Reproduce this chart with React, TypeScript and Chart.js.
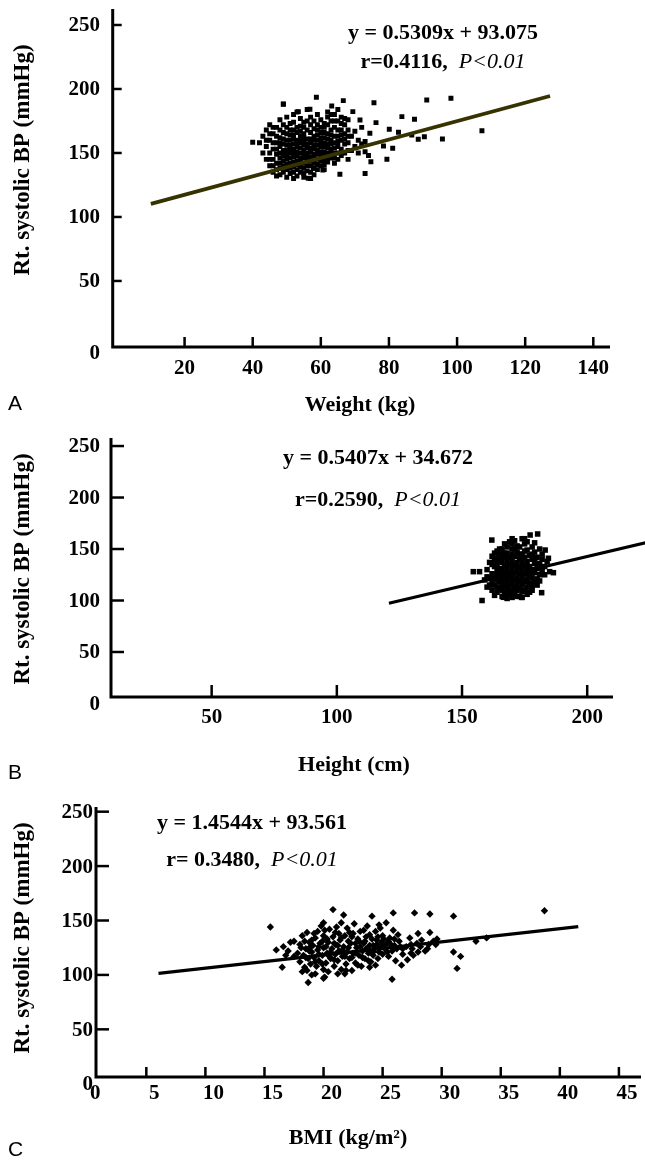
import React, { useEffect, useRef } from "react";
import { Chart, registerables } from "chart.js";

Chart.register(...registerables);

// ---------------- DATA ----------------
const bpTicks = [0, 50, 100, 150, 200, 250];

// Panel A: weight (kg) vs right systolic BP (mmHg)
const weightTicks = [20, 40, 60, 80, 100, 120, 140];
const weightPoints: [number, number][] = [
  [42, 158], [43, 150], [43, 163], [44, 145], [44, 155], [44, 168], [45, 140], [45, 150], [45, 160], [45, 172],
  [46, 135], [46, 145], [46, 153], [46, 165], [47, 132], [47, 142], [47, 149], [47, 158], [47, 170], [48, 138],
  [48, 146], [48, 155], [48, 162], [48, 176], [48, 133], [49, 140], [49, 148], [49, 157], [49, 166], [49, 188],
  [50, 131], [50, 137], [50, 145], [50, 152], [50, 160], [50, 170], [50, 178], [51, 134], [51, 142], [51, 150],
  [51, 156], [51, 164], [51, 173], [52, 130], [52, 139], [52, 147], [52, 153], [52, 161], [52, 168], [52, 180],
  [53, 132], [53, 141], [53, 148], [53, 155], [53, 160], [53, 166], [53, 182], [54, 135], [54, 143], [54, 150],
  [54, 158], [54, 163], [54, 171], [54, 177], [55, 131], [55, 138], [55, 146], [55, 152], [55, 159], [55, 165],
  [55, 174], [56, 136], [56, 144], [56, 150], [56, 157], [56, 168], [56, 184], [57, 130], [57, 140], [57, 147],
  [57, 154], [57, 161], [57, 172], [57, 178], [58, 133], [58, 142], [58, 149], [58, 156], [58, 163], [58, 175],
  [58.7, 193.5], [59, 137], [59, 145], [59, 152], [59, 160], [59, 168], [59, 180], [60, 140], [60, 148], [60, 155],
  [60, 162], [60, 170], [60, 176], [61, 137], [61, 144], [61, 151], [61, 158], [61, 166], [61, 173], [62, 143],
  [62, 150], [62, 157], [62, 165], [62, 178], [62, 182], [63, 146], [63, 153], [63, 160], [63, 168], [63, 175],
  [63.2, 186.7], [64, 142], [64, 150], [64, 158], [64, 170], [64, 180], [65, 145], [65, 155], [65, 163], [65, 175],
  [65, 184], [65.6, 133.4], [66, 148], [66, 160], [66, 168], [66, 178], [66.6, 190.9], [67, 150], [67, 157], [67, 165],
  [67, 172], [68, 145], [68, 158], [68, 168], [68, 176], [69, 152], [69, 163], [69.4, 182.3], [70, 155], [70, 167],
  [71, 150], [71, 160], [71.5, 175.8], [72, 157], [72, 170], [73, 134], [73, 151], [73, 159], [74, 148], [74.4, 165.4],
  [75.6, 189.3], [76.2, 173.7], [74.7, 143.2], [78.4, 155.5], [79.4, 145.1], [80.1, 168.5], [81.1, 153.7], [82.8, 166.2],
  [83.8, 178.4], [86.7, 164.1], [87.5, 176.3], [88.6, 160.7], [90.4, 162.7], [91.1, 191.4], [95.7, 160.9], [98.2, 192.7],
  [107.3, 167.4], [40, 158.4], [49, 188.3], [56.8, 184.1], [53.4, 182.3], [56.3, 130.2], [60.6, 136.7], [57.8, 138],
  [44, 160], [45, 145], [45, 165], [46, 140], [46, 158], [46, 170], [47, 137], [47, 153], [47, 163], [48, 142],
  [48, 150], [48, 158], [48, 168], [49, 135], [49, 144], [49, 152], [49, 161], [49, 172], [50, 141], [50, 148],
  [50, 156], [50, 165], [51, 138], [51, 146], [51, 153], [51, 160], [51, 168], [52, 135], [52, 143], [52, 150],
  [52, 157], [52, 164], [52, 174], [53, 137], [53, 144], [53, 151], [53, 158], [53, 170], [54, 139], [54, 146],
  [54, 154], [54, 160], [54, 167], [55, 134], [55, 142], [55, 149], [55, 156], [55, 162], [55, 170], [56, 140],
  [56, 147], [56, 154], [56, 161], [56, 175], [57, 135], [57, 144], [57, 151], [57, 158], [57, 166], [58, 138],
  [58, 146], [58, 153], [58, 160], [58, 169], [59, 141], [59, 149], [59, 156], [59, 164], [59, 172], [60, 144],
  [60, 151], [60, 159], [60, 166], [61, 141], [61, 148], [61, 155], [61, 162], [61, 170], [62, 146], [62, 154],
  [62, 161], [62, 172], [63, 150], [63, 157], [63, 164], [63, 180], [64, 146], [64, 154], [64, 163], [64, 175],
  [65, 150], [65, 159], [65, 168], [66, 153], [66, 164], [66, 173], [67, 161], [67, 177], [68, 152], [68, 163],
];
const weightFit: [number, number][] = [[10.1, 110.2], [127.3, 194.5]];

// Panel B: height (cm) vs right systolic BP (mmHg)
const heightTicks = [50, 100, 150, 200];
const heightPoints: [number, number][] = [
  [157, 128], [158, 100], [159, 120], [160, 113], [160, 130], [161, 122], [161, 137], [161.9, 158.7], [162, 110], [162, 118],
  [162, 126], [162, 143], [163, 105], [163, 115], [163, 124], [163, 133], [163, 140], [164, 108], [164, 120], [164, 128],
  [164, 136], [164, 148], [165, 112], [165, 118], [165, 125], [165, 131], [165, 139], [165, 145], [166, 104], [166, 110],
  [166, 116], [166, 122], [166, 130], [166, 137], [166, 150], [167, 108], [167, 114], [167, 120], [167, 127], [167, 133],
  [167, 142], [167, 155], [168, 102], [168, 112], [168, 118], [168, 124], [168, 130], [168, 138], [168, 146], [169, 106],
  [169, 115], [169, 121], [169, 128], [169, 135], [169, 142], [169, 157], [170, 103], [170, 110], [170, 117], [170, 124],
  [170, 131], [170, 138], [170, 150], [171, 107], [171, 113], [171, 120], [171, 127], [171, 134], [171, 143], [171, 158],
  [172, 110], [172, 116], [172, 122], [172, 129], [172, 137], [172, 147], [173, 104], [173, 112], [173, 119], [173, 126],
  [173, 132], [173, 140], [173, 152], [174, 103], [174, 115], [174, 122], [174, 130], [174, 137], [174, 145], [174, 160],
  [175, 110], [175, 118], [175, 126], [175, 134], [175, 142], [175, 155], [176, 113], [176, 121], [176, 129], [176, 138],
  [176, 149], [177, 108], [177, 117], [177, 125], [177, 133], [177, 144], [177.2, 163.6], [178, 114], [178, 122], [178, 130],
  [178, 140], [178, 152], [179, 118], [179, 127], [179, 136], [179, 147], [180, 121], [180, 131], [180, 142], [180.2, 164.6],
  [181, 125], [181, 135], [181, 150], [181.8, 107.6], [182, 130], [182, 140], [183, 133], [183.2, 149], [184, 138], [184.5, 141],
  [185, 128], [186.5, 127], [154.5, 128], [166.5, 103.1], [169.8, 105.3], [173.8, 103.1],
  [163, 146], [164, 113], [165, 150], [166, 126], [166, 143], [167, 146], [168, 107], [168, 152], [169, 110], [170, 145],
  [170, 155], [171, 150], [172, 104], [172, 153], [173, 145], [174, 109], [175, 148], [176, 106], [176, 157], [178, 110],
  [178, 145], [179, 141], [180, 115], [180, 136], [181, 119], [182, 145], [183, 125], [179, 156], [175, 160], [170, 160],
  [164, 141], [162, 135], [161, 115], [160, 123],
];
const heightFit: [number, number][] = [[120.8, 97.3], [223.3, 156.1]];

// Panel C: BMI (kg/m²) vs right systolic BP (mmHg)
const bmiTicks = [0, 5, 10, 15, 20, 25, 30, 35, 40, 45];
const bmiPoints: [number, number][] = [
  [15.5, 144], [16.0, 123], [16.5, 107], [16.6, 126], [17.2, 130], [17.5, 131], [18.7, 93], [20.0, 97], [20.8, 160], [21.7, 155],
  [21.5, 148], [24.1, 154], [25.9, 157], [27.7, 157], [29.0, 156], [31.0, 154], [38.7, 159], [25.8, 96], [31.0, 121], [31.6, 117],
  [31.3, 106], [32.9, 131], [33.8, 134], [26.6, 109], [27.1, 114], [27.4, 120], [26.7, 124], [28.0, 138], [29.0, 139], [29.6, 133],
  [29.5, 128], [28.8, 124], [28.2, 126], [27.4, 128], [26.3, 137], [23.9, 107], [21.2, 101], [21.8, 101], [19.3, 101], [18.2, 103],
  [20.1, 98], [17.8, 120], [18.0, 112], [18.0, 128], [18.2, 136], [18.3, 118], [18.4, 107], [18.5, 124], [18.6, 139], [18.7, 115],
  [18.8, 130], [18.9, 110], [19.0, 121], [19.1, 127], [19.2, 116], [19.3, 134], [19.4, 108], [19.5, 123], [19.5, 140], [19.6, 113],
  [19.7, 129], [19.8, 145], [19.9, 118], [20.0, 105], [20.0, 125], [20.0, 136], [20.0, 148], [20.2, 111], [20.3, 120], [20.4, 130],
  [20.5, 142], [20.6, 115], [20.7, 124], [20.8, 135], [20.9, 108], [21.0, 119], [21.0, 128], [21.0, 139], [21.2, 113], [21.3, 122],
  [21.4, 132], [21.5, 105], [21.6, 117], [21.7, 126], [21.8, 136], [21.9, 110], [22.0, 121], [22.0, 143], [22.2, 115], [22.3, 129],
  [22.4, 104], [22.5, 120], [22.5, 138], [22.6, 147], [22.7, 111], [22.8, 125], [22.9, 133], [23.0, 118], [23.1, 140], [23.2, 108],
  [23.3, 122], [23.4, 129], [23.5, 115], [23.6, 135], [23.7, 145], [23.8, 120], [23.9, 127], [24.0, 112], [24.1, 133], [24.2, 118],
  [24.3, 124], [24.4, 140], [24.5, 128], [24.6, 115], [24.7, 121], [24.8, 143], [24.9, 130], [25.0, 119], [25.0, 136], [25.2, 124],
  [25.3, 148], [25.4, 129], [25.5, 117], [25.6, 134], [25.8, 122], [25.9, 141], [26.0, 127], [26.1, 113], [26.4, 131], [26.7, 119],
  [27.0, 126], [27.3, 134], [27.6, 118], [27.9, 129], [28.3, 132], [28.6, 122], [28.9, 128], [29.3, 131], [18.1, 125], [18.4, 131],
  [18.9, 126], [19.2, 138], [19.6, 119], [19.9, 131], [20.2, 126], [20.5, 117], [20.9, 129], [21.3, 138], [21.6, 123], [22.1, 131],
  [22.4, 116], [22.7, 129], [23.1, 126], [23.5, 131], [23.8, 113], [24.2, 127], [24.6, 135], [25.1, 127], [25.5, 131], [26.2, 124],
  [27.5, 124], [28.0, 121], [17.0, 122], [17.5, 117], [16.8, 118], [18.6, 104], [19.0, 100], [20.4, 103], [21.9, 104], [22.9, 109],
  [24.4, 109], [18.5, 116], [18.8, 122], [19.3, 112], [19.6, 126], [19.9, 110], [20.3, 133], [20.6, 121], [20.9, 114], [21.2, 127],
  [21.5, 134], [21.8, 117], [22.1, 125], [22.4, 135], [22.7, 120], [23.0, 131], [23.3, 116], [23.6, 124], [23.9, 137], [24.2, 121],
  [24.5, 132], [24.8, 125], [25.1, 133], [25.4, 121], [25.7, 128], [26.0, 133], [26.5, 126], [19.0, 132], [20.1, 141], [21.1, 144],
  [22.2, 139], [23.4, 141], [24.7, 146],
];
const bmiFit: [number, number][] = [[6.03, 101.5], [41.56, 144.3]];

// ---------------- STYLE / LAYOUT ----------------
const SERIF = '"Liberation Serif", "Times New Roman", serif';
const SANS = '"Liberation Sans", Arial, sans-serif';

type Panel = {
  top: number;
  height: number;
  padding: { left: number; right: number; top: number; bottom: number };
  xRange: [number, number];
  yRange: [number, number];
  points: [number, number][];
  fit: [number, number][];
  xTicks: number[];
  pointStyle: string;
  pointRadius: number;
  lineColor: string;
  lineWidth: number;
  yTickLen: number;
  xTickLen: number;
  yLabelRight: number;
  zeroDy: number;
  xLabelY: number;
  xLabelDx: number;
  xTitle: string;
  xTitleX: number;
  xTitleY: number;
  yTitleY: number;
  letter: string;
  letterY: number;
  eq: string;
  rText: string;
  eqX: number;
  eqY: number;
  rY: number;
};

const panels: Panel[] = [
  {
    top: 0, height: 420,
    padding: { left: 112.7, right: 35, top: 9, bottom: 73 },
    xRange: [-1.1, 144.9], yRange: [-1.6, 262.5],
    points: weightPoints, fit: weightFit, xTicks: weightTicks,
    pointStyle: "rect", pointRadius: 3.5, lineColor: "#363300", lineWidth: 3.8,
    yTickLen: 9, xTickLen: 10, yLabelRight: 100, zeroDy: 8, xLabelY: 369, xLabelDx: 0,
    xTitle: "Weight (kg)", xTitleX: 360, xTitleY: 405, yTitleY: 160,
    letter: "A", letterY: 404,
    eq: "y = 0.5309x + 93.075", rText: "r=0.4116,  ", eqX: 443, eqY: 33, rY: 62,
  },
  {
    top: 420, height: 370,
    padding: { left: 111, right: 32, top: 18, bottom: 93 },
    xRange: [9.8, 210.3], yRange: [6.3, 257.8],
    points: heightPoints, fit: heightFit, xTicks: heightTicks,
    pointStyle: "rect", pointRadius: 3.9, lineColor: "#000000", lineWidth: 3.2,
    yTickLen: 13, xTickLen: 12, yLabelRight: 100, zeroDy: 0, xLabelY: 298, xLabelDx: 0,
    xTitle: "Height (cm)", xTitleX: 354, xTitleY: 345, yTitleY: 149,
    letter: "B", letterY: 353,
    eq: "y = 0.5407x + 34.672", rText: "r=0.2590,  ", eqX: 378, eqY: 38, rY: 80,
  },
  {
    top: 790, height: 370,
    padding: { left: 96, right: 0, top: 17, bottom: 83 },
    xRange: [0.74, 46.87], yRange: [6.2, 254.3],
    points: bmiPoints, fit: bmiFit, xTicks: bmiTicks,
    pointStyle: "rectRot", pointRadius: 3.7, lineColor: "#000000", lineWidth: 3.2,
    yTickLen: 13, xTickLen: 10, yLabelRight: 93, zeroDy: 0, xLabelY: 304, xLabelDx: 8,
    xTitle: "BMI (kg/m²)", xTitleX: 348, xTitleY: 348, yTitleY: 148,
    letter: "C", letterY: 360,
    eq: "y = 1.4544x + 93.561", rText: "r= 0.3480,  ", eqX: 252, eqY: 33, rY: 70,
  },
];

function makeAxesPlugin(p: Panel) {
  return {
    id: "panelAxes" + p.letter,
    afterDatasetsDraw(chart: any) {
      const { ctx, chartArea: a, scales } = chart;
      const x = scales.x;
      const y = scales.y;
      ctx.save();
      ctx.strokeStyle = "#000";
      ctx.fillStyle = "#000";
      ctx.lineCap = "butt";
      // axis lines
      ctx.lineWidth = 3;
      ctx.beginPath();
      ctx.moveTo(a.left, a.top);
      ctx.lineTo(a.left, a.bottom + 1.5);
      ctx.moveTo(a.left - 1.5, a.bottom);
      ctx.lineTo(a.right, a.bottom);
      ctx.stroke();
      // y ticks + labels
      ctx.lineWidth = 2.5;
      ctx.font = `bold 21px ${SERIF}`;
      ctx.textAlign = "right";
      ctx.textBaseline = "middle";
      bpTicks.forEach((v) => {
        const py = y.getPixelForValue(v);
        if (v !== 0) {
          ctx.beginPath();
          ctx.moveTo(a.left, py);
          ctx.lineTo(a.left + p.yTickLen, py);
          ctx.stroke();
        }
        ctx.fillText(String(v), p.yLabelRight, py + (v === 0 ? p.zeroDy : 0) + 1);
      });
      // x ticks + labels
      ctx.textAlign = "center";
      p.xTicks.forEach((v) => {
        const px = x.getPixelForValue(v);
        if (px > a.left + 3 && px <= a.right) {
          ctx.beginPath();
          ctx.moveTo(px, a.bottom);
          ctx.lineTo(px, a.bottom - p.xTickLen);
          ctx.stroke();
        }
        ctx.fillText(String(v), px + p.xLabelDx, p.xLabelY);
      });
      // x title
      ctx.font = `bold 22px ${SERIF}`;
      ctx.fillText(p.xTitle, p.xTitleX, p.xTitleY);
      // y title
      ctx.save();
      ctx.translate(23, p.yTitleY);
      ctx.rotate(-Math.PI / 2);
      ctx.font = `bold 23px ${SERIF}`;
      ctx.fillText("Rt. systolic BP (mmHg)", 0, 0);
      ctx.restore();
      // panel letter
      ctx.font = `21px ${SANS}`;
      ctx.textAlign = "left";
      ctx.fillText(p.letter, 8, p.letterY);
      // equation
      ctx.font = `bold 22px ${SERIF}`;
      ctx.textAlign = "center";
      ctx.fillText(p.eq, p.eqX, p.eqY);
      // r line with italic P
      const boldFont = `bold 22px ${SERIF}`;
      const italFont = `italic 22px ${SERIF}`;
      ctx.font = boldFont;
      const w1 = ctx.measureText(p.rText).width;
      ctx.font = italFont;
      const w2 = ctx.measureText("P<0.01").width;
      const start = p.eqX - (w1 + w2) / 2;
      ctx.textAlign = "left";
      ctx.font = boldFont;
      ctx.fillText(p.rText, start, p.rY);
      ctx.font = italFont;
      ctx.fillText("P<0.01", start + w1, p.rY);
      ctx.restore();
    },
  };
}

function PanelChart({ p }: { p: Panel }) {
  const ref = useRef<HTMLCanvasElement | null>(null);
  useEffect(() => {
    if (!ref.current) return;
    const chart = new Chart(ref.current, {
      type: "scatter",
      data: {
        datasets: [
          {
            data: p.fit.map(([x, y]) => ({ x, y })),
            showLine: true,
            pointRadius: 0,
            borderColor: p.lineColor,
            borderWidth: p.lineWidth,
            clip: false,
            order: 0,
          } as any,
          {
            data: p.points.map(([x, y]) => ({ x, y })),
            pointStyle: p.pointStyle,
            pointRadius: p.pointRadius,
            backgroundColor: "#000",
            borderColor: "#000",
            borderWidth: 0,
            order: 1,
          } as any,
        ],
      },
      options: {
        responsive: false,
        animation: false,
        events: [],
        layout: { padding: p.padding },
        scales: {
          x: { type: "linear", min: p.xRange[0], max: p.xRange[1], display: false },
          y: { type: "linear", min: p.yRange[0], max: p.yRange[1], display: false },
        },
        plugins: { legend: { display: false }, tooltip: { enabled: false } },
      },
      plugins: [makeAxesPlugin(p)],
    });
    return () => chart.destroy();
  }, [p]);
  return (
    <canvas
      ref={ref}
      width={645}
      height={p.height}
      style={{ position: "absolute", left: 0, top: p.top, width: 645, height: p.height }}
    />
  );
}

export default function App() {
  return (
    <div style={{ position: "fixed", left: 0, top: 0, width: 645, height: 1160, background: "#fff" }}>
      {panels.map((p) => (
        <PanelChart key={p.letter} p={p} />
      ))}
    </div>
  );
}
